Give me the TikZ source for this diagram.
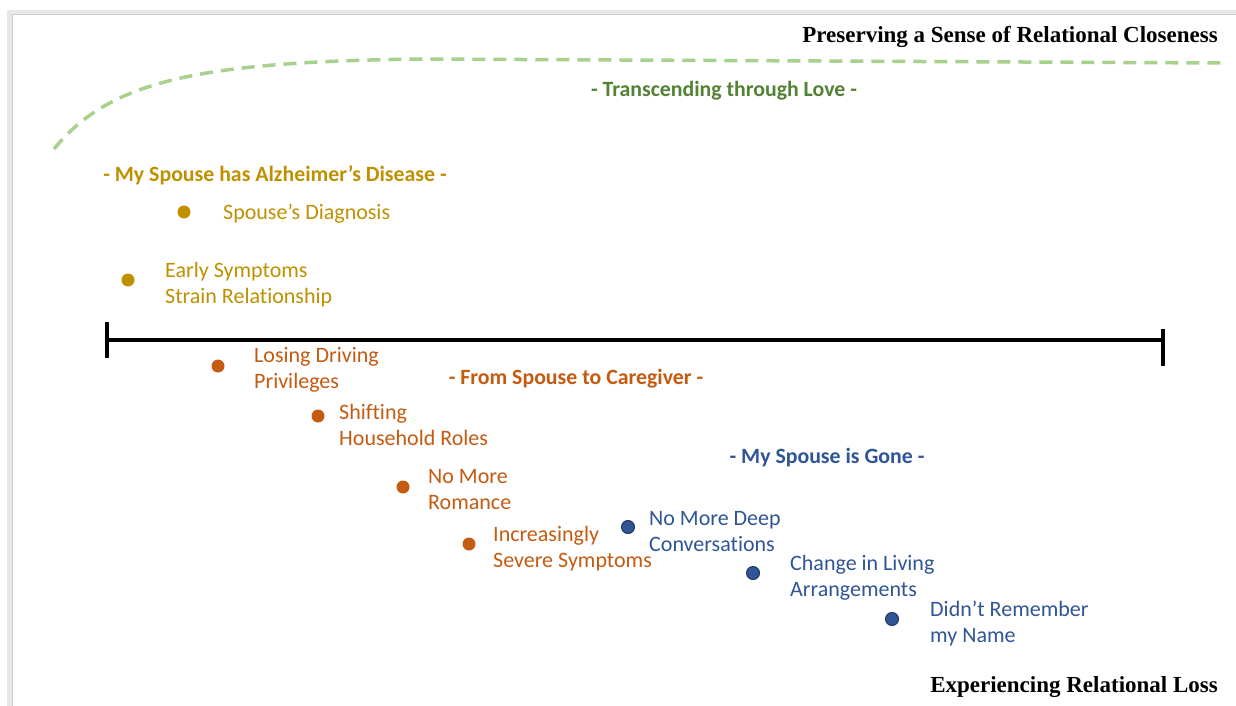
\documentclass[tikz,border=0pt]{standalone}
\usepackage{fontspec}
\setmainfont[Ligatures=NoCommon]{Carlito}
\newfontfamily\titlefont{Liberation Serif}
\definecolor{gold}{HTML}{BF9000}
\definecolor{rust}{HTML}{C55A11}
\definecolor{navy}{HTML}{2F5597}
\definecolor{navyedge}{HTML}{1F3864}
\definecolor{leaf}{HTML}{548235}
\definecolor{paleleaf}{HTML}{A9D18E}
\tikzset{
  lbl/.style={anchor=base west, align=left, inner sep=0pt, font=\fontsize{22}{26}\selectfont},
  head/.style={anchor=base, inner sep=0pt, font=\fontsize{21.8}{26}\selectfont\bfseries},
  ttl/.style={anchor=base east, inner sep=0pt, font=\titlefont\fontsize{23}{27}\selectfont\bfseries},
  dotg/.style={circle, fill=gold, minimum size=13pt, inner sep=0pt},
  doto/.style={circle, fill=rust, minimum size=13pt, inner sep=0pt},
  dotb/.style={circle, fill=navy, draw=navyedge, line width=1pt, minimum size=13pt, inner sep=0pt},
  axis/.style={line width=4.5pt, black},
  arc/.style={line width=3.5pt, paleleaf, dash pattern=on 13pt off 8pt}
}
\begin{document}
\begin{tikzpicture}[x=1pt, y=-1pt]
\useasboundingbox (0,0) rectangle (1236,706);
\fill[white] (0,0) rectangle (1236,706);
\fill[gray!18] (7,10) rectangle (1236,706);
\fill[white] (13,15) rectangle (1236,706);
\draw[gray!40, line width=0.8pt] (12.6,706) -- (12.6,14.6) -- (1236,14.6);

% titles
\node[ttl] (top) at (1218,43) {Preserving a Sense of Relational Closeness};
\node[ttl] (bot) at (1218,692) {Experiencing Relational Loss};

% dashed arc
\coordinate (a0) at (54,149);
\coordinate (a1) at (420,59);
\coordinate (a2) at (1223,63);
\draw[arc] (a0) .. controls (110,80) and (200,62) .. (a1) -- (a2);

% headings
\node[head, text=leaf] (h1) at (724,97) {- Transcending through Love -};
\node[head, text=gold] (h2) at (275,181) {- My Spouse has Alzheimer’s Disease -};
\node[head, text=rust] (h3) at (576,384) {- From Spouse to Caregiver -};
\node[head, text=navy] (h4) at (827,463) {- My Spouse is Gone -};

% axis
\coordinate (L) at (107,340);
\coordinate (R) at (1163,340);
\coordinate (Lt) at (107,322);
\coordinate (Lb) at (107,358);
\coordinate (Rt) at (1163,329);
\coordinate (Rb) at (1163,366);
\draw[axis] (L) -- (R);
\draw[axis] (Lt) -- (Lb);
\draw[axis] (Rt) -- (Rb);

% gold
\node[dotg] (g1) at (184,212) {};
\node[lbl, text=gold] (t1) at (223,219) {Spouse’s Diagnosis};
\node[dotg] (g2) at (128,280) {};
\node[lbl, text=gold] (t2) at (165,303) {Early Symptoms\\Strain Relationship};

% rust
\node[doto] (o1) at (218,366) {};
\node[lbl, text=rust] (t3) at (254,388) {Losing Driving\\Privileges};
\node[doto] (o2) at (318,416) {};
\node[lbl, text=rust] (t4) at (339,445) {Shifting\\Household Roles};
\node[doto] (o3) at (403,487) {};
\node[lbl, text=rust] (t5) at (428,509) {No More\\Romance};
\node[doto] (o4) at (469,544) {};
\node[lbl, text=rust] (t6) at (493,567) {Increasingly\\Severe Symptoms};

% navy
\node[dotb] (b1) at (628,527) {};
\node[lbl, text=navy] (t7) at (649,551) {No More Deep\\Conversations};
\node[dotb] (b2) at (753,573) {};
\node[lbl, text=navy] (t8) at (790,596) {Change in Living\\Arrangements};
\node[dotb] (b3) at (892,619) {};
\node[lbl, text=navy] (t9) at (930,642) {Didn’t Remember\\my Name};
\end{tikzpicture}
\end{document}
